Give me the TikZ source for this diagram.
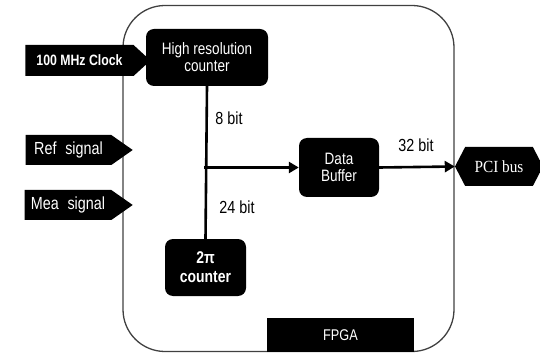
\documentclass[tikz,border=0pt]{standalone}
\usepackage{fontspec}
\setmainfont{Liberation Sans}[FakeStretch=0.82]
\newfontfamily\pcifont{Liberation Serif}[FakeStretch=0.9]
\usetikzlibrary{shapes.symbols,arrows.meta}

\begin{document}
\begin{tikzpicture}[x=1pt,y=-1pt,
  blk/.style={fill=black,text=white,rounded corners=8pt,align=center,inner sep=0pt,
    font=\fontsize{16.5}{17}\selectfont},
  sig/.style={signal,signal to=east,fill=black,text=white,inner sep=0pt,
    font=\fontsize{17.5}{18}\selectfont},
  lbl/.style={font=\fontsize{17.5}{18}\selectfont},
  bus/.style={line width=2.6pt},
  flow/.style={bus,-{Triangle[length=10pt,width=11pt]}}]

\useasboundingbox (0,0) rectangle (540,355);

% FPGA outline
\node (fpga) [draw=black!75,line width=1.3pt,rounded corners=42pt,
  minimum width=331pt,minimum height=346pt,inner sep=0pt] at (288.5,178.5) {};
\node (fpgalbl) [fill=black,text=white,minimum width=147pt,minimum height=34pt,
  inner sep=0pt,font=\fontsize{15.5}{16}\selectfont] at (340.5,335) {FPGA};

% functional blocks
\node (hrc) [blk,minimum width=122pt,minimum height=57pt] at (207,57.5)
  {High resolution\\counter};
\node (buf) [blk,minimum width=80pt,minimum height=59pt] at (339,167.5)
  {Data\\Buffer};
\node (tpc) [blk,minimum width=81pt,minimum height=57pt,
  font=\fontsize{17}{19}\selectfont\bfseries] at (205.5,267.5) {2π\\counter};

% external signals
\node (clk) [sig,signal pointer angle=85,minimum width=125pt,minimum height=31pt,
  font=\fontsize{15}{16}\selectfont\bfseries] at (79.5,60.5) {100 MHz Clock\hspace{10pt}};
\node (ref) [sig,signal pointer angle=70,minimum width=107pt,minimum height=30pt]
  at (68.5,150) {Ref\,\,\,signal\hspace{12pt}};
\node (mea) [sig,signal pointer angle=70,minimum width=108pt,minimum height=30pt]
  at (68,205) {Mea\,\,\,signal\hspace{12pt}};
\node (pci) [signal,signal to=west and east,signal pointer angle=125,fill=black,
  text=white,inner sep=0pt,minimum width=88pt,minimum height=39pt,
  font=\pcifont\fontsize{17}{18}\selectfont] at (499,166.5) {PCI bus};

% data paths
\coordinate (j) at (tpc.north |- buf.west);
\draw[bus] (hrc.south) -- (tpc.north);
\draw[flow] ([xshift=-1.3pt]j) -- (buf.west);
\draw[flow] (buf.east) -- (pci.west);

% bus widths
\node (w8) [lbl] at (229,118) {8 bit};
\node (w24) [lbl] at (237,207) {24 bit};
\node (w32) [lbl] at (416,145) {32 bit};
\end{tikzpicture}
\end{document}
